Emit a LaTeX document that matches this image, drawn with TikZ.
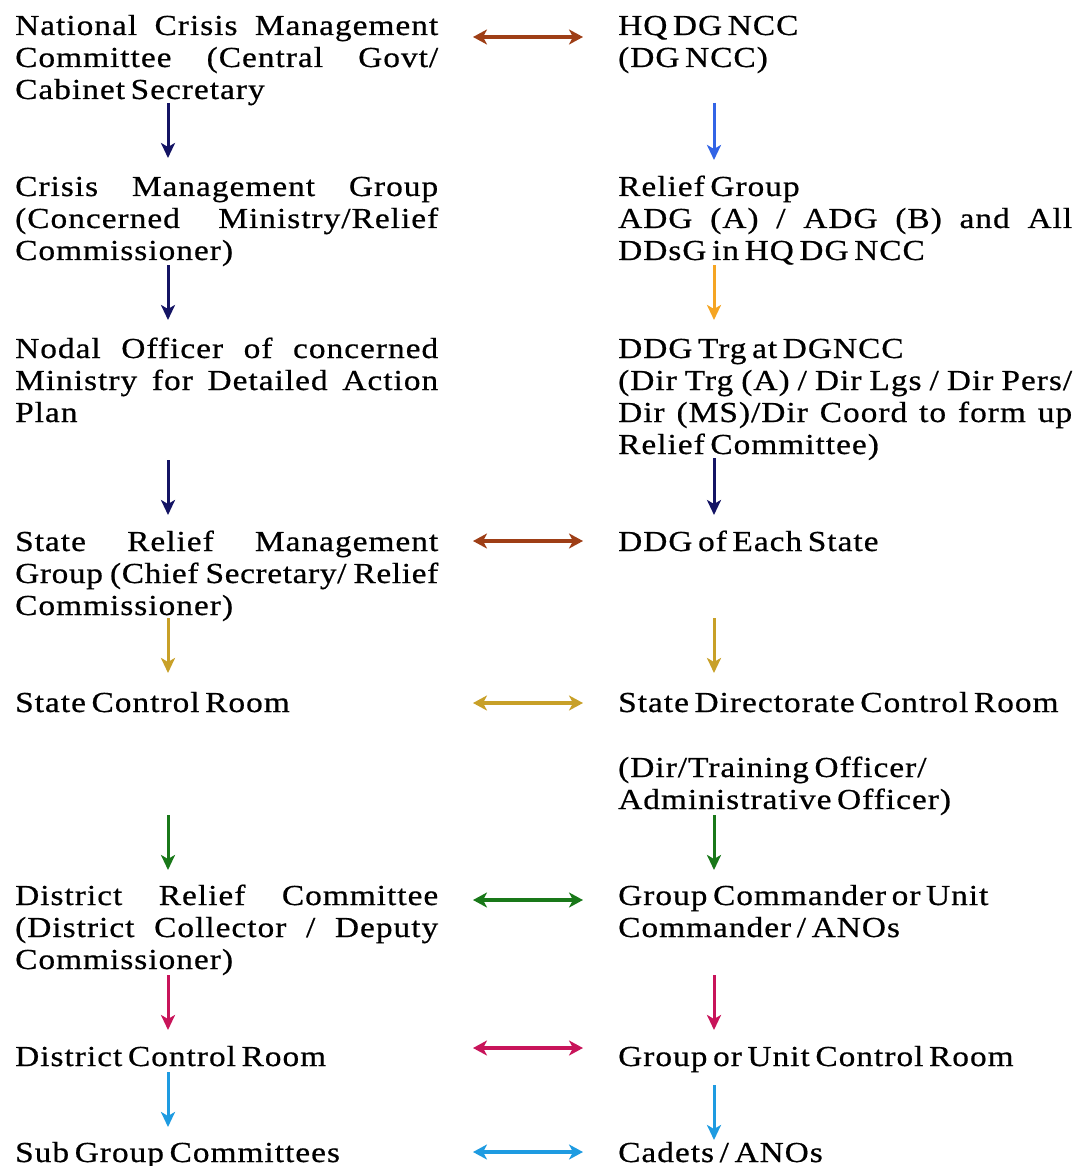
\documentclass[tikz,border=0pt]{standalone}
\usepackage{fontspec}
\setmainfont{Liberation Serif}[LetterSpace=3.5,WordSpace=0.6,FakeStretch=1.15,FakeBold=0.6]
\usetikzlibrary{arrows.meta}
\definecolor{brownA}{RGB}{158,62,22}
\definecolor{navyA}{RGB}{20,20,100}
\definecolor{blueA}{RGB}{50,100,230}
\definecolor{orangeA}{RGB}{245,165,35}
\definecolor{goldA}{RGB}{200,160,40}
\definecolor{greenA}{RGB}{25,120,25}
\definecolor{crimsonA}{RGB}{200,20,90}
\definecolor{skyA}{RGB}{30,155,225}
\newcommand\JL[1]{\hbox{\makebox[423pt][s]{#1}}}
\newcommand\JLt[1]{\hbox{\makebox[423pt][s]{\addfontfeature{LetterSpace=2.2}#1}}}
\newcommand\JR[1]{\hbox{\makebox[454pt][s]{#1}}}
\newcommand\PL[1]{\hbox{#1}}
\newcommand\Blk[1]{\vtop{\baselineskip=32pt\lineskiplimit=-20pt #1}}
\tikzset{
  blk/.style={anchor=base west, inner sep=0pt, font=\fontsize{29}{32}\selectfont},
  varr/.style={line width=3pt, -{Stealth[length=15pt,width=14pt,inset=4pt]}},
  harr/.style={line width=4pt, {Stealth[length=14pt,width=15pt,inset=4pt]}-{Stealth[length=14pt,width=15pt,inset=4pt]}}
}
\begin{document}
\begin{tikzpicture}[x=1pt,y=-1pt]
\fill[white] (0,0) rectangle (1074,1166);
\useasboundingbox (0,0) rectangle (1074,1166);
% left column
\node[blk] (L1) at (15,35) {\Blk{\JL{National Crisis Management}\JL{Committee (Central Govt/}\PL{Cabinet Secretary}}};
\node[blk] (L2) at (15,196) {\Blk{\JL{Crisis Management Group}\JL{(Concerned Ministry/Relief}\PL{Commissioner)}}};
\node[blk] (L3) at (15,358) {\Blk{\JL{Nodal Officer of concerned}\JL{Ministry for Detailed Action}\PL{Plan}}};
\node[blk] (L4) at (15,551) {\Blk{\JL{State Relief Management}\JLt{Group (Chief Secretary/ Relief}\PL{Commissioner)}}};
\node[blk] (L5) at (15,712) {State Control Room};
\node[blk] (L6) at (15,905) {\Blk{\JL{District Relief Committee}\JL{(District Collector / Deputy}\PL{Commissioner)}}};
\node[blk] (L7) at (15,1066) {District Control Room};
\node[blk] (L8) at (15,1162) {Sub Group Committees};
% right column
\node[blk] (R1) at (618,35) {\Blk{\PL{HQ DG NCC}\PL{(DG NCC)}}};
\node[blk] (R2) at (618,196) {\Blk{\PL{Relief Group}\JR{ADG (A) / ADG (B) and All}\PL{DDsG in HQ DG NCC}}};
\node[blk] (R3) at (618,358) {\Blk{\PL{DDG Trg at DGNCC}\JR{(Dir Trg (A) / Dir Lgs / Dir Pers/}\JR{Dir (MS)/Dir Coord to form up}\PL{Relief Committee)}}};
\node[blk] (R4) at (618,551) {DDG of Each State};
\node[blk] (R5) at (618,712) {State Directorate Control Room};
\node[blk] (R5b) at (618,777) {\Blk{\PL{(Dir/Training Officer/}\PL{Administrative Officer)}}};
\node[blk] (R6) at (618,905) {\Blk{\PL{Group Commander or Unit}\PL{Commander / ANOs}}};
\node[blk] (R7) at (618,1066) {Group or Unit Control Room};
\node[blk] (R8) at (618,1162) {Cadets / ANOs};
% arrow end points
\coordinate (a1s) at (168,103);  \coordinate (a1e) at (168,158);
\coordinate (a2s) at (168,265);  \coordinate (a2e) at (168,320);
\coordinate (a3s) at (168,460);  \coordinate (a3e) at (168,515);
\coordinate (a4s) at (168,618);  \coordinate (a4e) at (168,673);
\coordinate (a5s) at (168,815);  \coordinate (a5e) at (168,870);
\coordinate (a6s) at (168,975);  \coordinate (a6e) at (168,1030);
\coordinate (a7s) at (168,1072); \coordinate (a7e) at (168,1127);
\coordinate (b1s) at (714,103);  \coordinate (b1e) at (714,160);
\coordinate (b2s) at (714,265);  \coordinate (b2e) at (714,320);
\coordinate (b3s) at (714,458);  \coordinate (b3e) at (714,515);
\coordinate (b4s) at (714,618);  \coordinate (b4e) at (714,673);
\coordinate (b5s) at (714,815);  \coordinate (b5e) at (714,870);
\coordinate (b6s) at (714,975);  \coordinate (b6e) at (714,1030);
\coordinate (b7s) at (714,1085); \coordinate (b7e) at (714,1140);
\coordinate (h1s) at (473,37);   \coordinate (h1e) at (583,37);
\coordinate (h2s) at (473,541);  \coordinate (h2e) at (583,541);
\coordinate (h3s) at (473,703);  \coordinate (h3e) at (583,703);
\coordinate (h4s) at (473,900);  \coordinate (h4e) at (583,900);
\coordinate (h5s) at (473,1048); \coordinate (h5e) at (583,1048);
\coordinate (h6s) at (473,1152); \coordinate (h6e) at (583,1152);
% vertical arrows
\draw[varr,navyA] (a1s) -- (a1e);
\draw[varr,navyA] (a2s) -- (a2e);
\draw[varr,navyA] (a3s) -- (a3e);
\draw[varr,goldA] (a4s) -- (a4e);
\draw[varr,greenA] (a5s) -- (a5e);
\draw[varr,crimsonA] (a6s) -- (a6e);
\draw[varr,skyA] (a7s) -- (a7e);
\draw[varr,blueA] (b1s) -- (b1e);
\draw[varr,orangeA] (b2s) -- (b2e);
\draw[varr,navyA] (b3s) -- (b3e);
\draw[varr,goldA] (b4s) -- (b4e);
\draw[varr,greenA] (b5s) -- (b5e);
\draw[varr,crimsonA] (b6s) -- (b6e);
\draw[varr,skyA] (b7s) -- (b7e);
% horizontal arrows
\draw[harr,brownA] (h1s) -- (h1e);
\draw[harr,brownA] (h2s) -- (h2e);
\draw[harr,goldA] (h3s) -- (h3e);
\draw[harr,greenA] (h4s) -- (h4e);
\draw[harr,crimsonA] (h5s) -- (h5e);
\draw[harr,skyA] (h6s) -- (h6e);
\end{tikzpicture}
\end{document}
